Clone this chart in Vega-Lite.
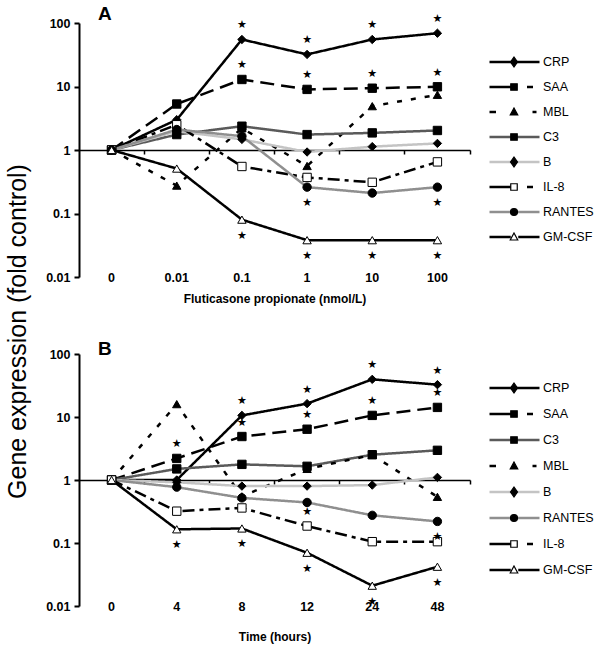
{
  "$schema": "https://vega.github.io/schema/vega-lite/v6.json",
  "background": "white",
  "padding": {"left": 5, "top": 5, "right": 5, "bottom": 5},
  "bounds": "flush",
  "spacing": 77,
  "config": {
    "font": "Liberation Sans",
    "view": {"stroke": null},
    "axis": {"grid": false, "labelColor": "black", "titleColor": "black", "labelFontWeight": "bold", "labelFontSize": 12.5, "titleFontSize": 12, "titleFontWeight": "bold"}
  },
  "datasets": {
    "a": [
      {"x": "0", "g": "CRP", "v": 1}, {"x": "0.01", "g": "CRP", "v": 3.0}, {"x": "0.1", "g": "CRP", "v": 55, "s": "a"}, {"x": "1", "g": "CRP", "v": 32, "s": "a"}, {"x": "10", "g": "CRP", "v": 55, "s": "a"}, {"x": "100", "g": "CRP", "v": 69, "s": "a"},
      {"x": "0", "g": "SAA", "v": 1}, {"x": "0.01", "g": "SAA", "v": 5.3}, {"x": "0.1", "g": "SAA", "v": 12.9, "s": "a"}, {"x": "1", "g": "SAA", "v": 9.0, "s": "a"}, {"x": "10", "g": "SAA", "v": 9.4, "s": "a"}, {"x": "100", "g": "SAA", "v": 9.9, "s": "a"},
      {"x": "0", "g": "MBL", "v": 1}, {"x": "0.01", "g": "MBL", "v": 0.275}, {"x": "0.1", "g": "MBL", "v": 2.2}, {"x": "1", "g": "MBL", "v": 0.56}, {"x": "10", "g": "MBL", "v": 4.9}, {"x": "100", "g": "MBL", "v": 7.4},
      {"x": "0", "g": "C3", "v": 1}, {"x": "0.01", "g": "C3", "v": 1.75}, {"x": "0.1", "g": "C3", "v": 2.37}, {"x": "1", "g": "C3", "v": 1.75}, {"x": "10", "g": "C3", "v": 1.86}, {"x": "100", "g": "C3", "v": 2.03},
      {"x": "0", "g": "B", "v": 1}, {"x": "0.01", "g": "B", "v": 1.98}, {"x": "0.1", "g": "B", "v": 1.47}, {"x": "1", "g": "B", "v": 0.93}, {"x": "10", "g": "B", "v": 1.13}, {"x": "100", "g": "B", "v": 1.27},
      {"x": "0", "g": "IL-8", "v": 1}, {"x": "0.01", "g": "IL-8", "v": 2.5}, {"x": "0.1", "g": "IL-8", "v": 0.55}, {"x": "1", "g": "IL-8", "v": 0.37}, {"x": "10", "g": "IL-8", "v": 0.31}, {"x": "100", "g": "IL-8", "v": 0.65},
      {"x": "0", "g": "RANTES", "v": 1}, {"x": "0.01", "g": "RANTES", "v": 2.1}, {"x": "0.1", "g": "RANTES", "v": 1.65}, {"x": "1", "g": "RANTES", "v": 0.26, "s": "b"}, {"x": "10", "g": "RANTES", "v": 0.21}, {"x": "100", "g": "RANTES", "v": 0.26, "s": "b"},
      {"x": "0", "g": "GM-CSF", "v": 1}, {"x": "0.01", "g": "GM-CSF", "v": 0.51}, {"x": "0.1", "g": "GM-CSF", "v": 0.08, "s": "b"}, {"x": "1", "g": "GM-CSF", "v": 0.038, "s": "b"}, {"x": "10", "g": "GM-CSF", "v": 0.038, "s": "b"}, {"x": "100", "g": "GM-CSF", "v": 0.038, "s": "b"}
    ],
    "b": [
      {"x": "0", "g": "CRP", "v": 1}, {"x": "4", "g": "CRP", "v": 1.0}, {"x": "8", "g": "CRP", "v": 10.6, "s": "a"}, {"x": "12", "g": "CRP", "v": 16.3, "s": "a"}, {"x": "24", "g": "CRP", "v": 39.6, "s": "a"}, {"x": "48", "g": "CRP", "v": 32.6, "s": "a"},
      {"x": "0", "g": "SAA", "v": 1}, {"x": "4", "g": "SAA", "v": 2.2, "s": "a"}, {"x": "8", "g": "SAA", "v": 4.9, "s": "a"}, {"x": "12", "g": "SAA", "v": 6.4, "s": "a"}, {"x": "24", "g": "SAA", "v": 10.6, "s": "a"}, {"x": "48", "g": "SAA", "v": 14.2, "s": "a"},
      {"x": "0", "g": "C3", "v": 1}, {"x": "4", "g": "C3", "v": 1.5}, {"x": "8", "g": "C3", "v": 1.77}, {"x": "12", "g": "C3", "v": 1.65}, {"x": "24", "g": "C3", "v": 2.52}, {"x": "48", "g": "C3", "v": 2.96},
      {"x": "0", "g": "MBL", "v": 1}, {"x": "4", "g": "MBL", "v": 16}, {"x": "8", "g": "MBL", "v": 0.55}, {"x": "12", "g": "MBL", "v": 1.5}, {"x": "24", "g": "MBL", "v": 2.5}, {"x": "48", "g": "MBL", "v": 0.54},
      {"x": "0", "g": "B", "v": 1}, {"x": "4", "g": "B", "v": 0.92}, {"x": "8", "g": "B", "v": 0.8}, {"x": "12", "g": "B", "v": 0.8}, {"x": "24", "g": "B", "v": 0.83}, {"x": "48", "g": "B", "v": 1.1},
      {"x": "0", "g": "RANTES", "v": 1}, {"x": "4", "g": "RANTES", "v": 0.77}, {"x": "8", "g": "RANTES", "v": 0.52}, {"x": "12", "g": "RANTES", "v": 0.44}, {"x": "24", "g": "RANTES", "v": 0.275}, {"x": "48", "g": "RANTES", "v": 0.22, "s": "b"},
      {"x": "0", "g": "IL-8", "v": 1}, {"x": "4", "g": "IL-8", "v": 0.32}, {"x": "8", "g": "IL-8", "v": 0.36}, {"x": "12", "g": "IL-8", "v": 0.186, "s": "a"}, {"x": "24", "g": "IL-8", "v": 0.105}, {"x": "48", "g": "IL-8", "v": 0.105},
      {"x": "0", "g": "GM-CSF", "v": 1}, {"x": "4", "g": "GM-CSF", "v": 0.165, "s": "b"}, {"x": "8", "g": "GM-CSF", "v": 0.17, "s": "b"}, {"x": "12", "g": "GM-CSF", "v": 0.07, "s": "b"}, {"x": "24", "g": "GM-CSF", "v": 0.021, "s": "b"}, {"x": "48", "g": "GM-CSF", "v": 0.042, "s": "b"}
    ]
  },
  "vconcat": [
    {
      "width": 391,
      "height": 254,
      "title": {"text": "A", "anchor": "start", "frame": "group", "dx": 19, "offset": -26, "fontSize": 19, "fontWeight": "bold", "baseline": "alphabetic", "color": "black"},
      "data": {"name": "a"},
      "resolve": {"scale": {"shape": "independent", "fill": "independent", "stroke": "independent", "strokeDash": "independent"}, "axis": {"x": "independent"}},
      "layer": [
        {
          "mark": {"type": "line", "strokeWidth": 2.5},
          "encoding": {
            "x": {"field": "x", "type": "ordinal", "scale": {"type": "band", "domain": ["0", "0.01", "0.1", "1", "10", "100"], "paddingInner": 0, "paddingOuter": 0},
                  "axis": {"orient": "bottom", "domain": false, "ticks": false, "tickSize": 0, "labelPadding": 0, "labelBaseline": "middle", "labelAngle": 0, "title": "Fluticasone propionate (nmol/L)", "titlePadding": 10}},
            "y": {"field": "v", "type": "quantitative", "scale": {"type": "log", "domain": [0.01, 100], "nice": false},
                  "axis": {"values": [0.01, 0.1, 1, 10, 100], "format": ".2~f", "domainColor": "black", "domainWidth": 2, "tickColor": "black", "tickWidth": 2, "tickSize": 5, "labelPadding": 4,
                           "title": "Gene expression (fold control)", "titleFontSize": 25, "titleFontWeight": "normal", "titleX": -49, "titleY": 308, "titleAlign": "center", "titleBaseline": "bottom", "titleAngle": -90}},
            "stroke": {"field": "g", "type": "nominal", "scale": {"domain": ["CRP", "SAA", "MBL", "C3", "B", "IL-8", "RANTES", "GM-CSF"], "range": ["#000000", "#000000", "#000000", "#5a5a5a", "#c4c4c4", "#000000", "#8f8f8f", "#000000"]}, "legend": null},
            "strokeDash": {"field": "g", "type": "nominal", "scale": {"domain": ["CRP", "SAA", "MBL", "C3", "B", "IL-8", "RANTES", "GM-CSF"], "range": [[1, 0], [14, 7], [5, 9], [1, 0], [1, 0], [12, 5, 4, 5], [1, 0], [1, 0]]}, "legend": null}
          }
        },
        {
          "mark": {"type": "point", "filled": true, "opacity": 1, "size": 70, "stroke": "black", "strokeWidth": 1},
          "encoding": {
            "x": {"field": "x", "type": "ordinal", "scale": {"type": "band", "domain": ["0", "0.01", "0.1", "1", "10", "100"], "paddingInner": 0, "paddingOuter": 0},
                  "axis": {"orient": "top", "offset": -127, "labels": false, "domain": true, "domainColor": "black", "domainWidth": 1.5, "ticks": true, "tickSize": -4, "tickColor": "black", "tickWidth": 1.5, "bandPosition": 1, "title": null}},
            "y": {"field": "v", "type": "quantitative"},
            "shape": {"field": "g", "type": "nominal", "scale": {"domain": ["CRP", "SAA", "MBL", "C3", "B", "IL-8", "RANTES", "GM-CSF"], "range": ["diamond", "square", "triangle-up", "square", "diamond", "square", "circle", "triangle-up"]}, "legend": null},
            "fill": {"field": "g", "type": "nominal", "scale": {"domain": ["CRP", "SAA", "MBL", "C3", "B", "IL-8", "RANTES", "GM-CSF"], "range": ["#000000", "#000000", "#000000", "#000000", "#000000", "#ffffff", "#000000", "#ffffff"]}, "legend": null}
          }
        },
        {
          "transform": [{"filter": "datum.s === 'a'"}],
          "mark": {"type": "text", "text": "★", "dy": -14, "fontSize": 11, "font": "DejaVu Sans", "baseline": "middle", "color": "black"},
          "encoding": {
            "x": {"field": "x", "type": "ordinal", "axis": null},
            "y": {"field": "v", "type": "quantitative"}
          }
        },
        {
          "transform": [{"filter": "datum.s === 'b'"}],
          "mark": {"type": "text", "text": "★", "dy": 16, "fontSize": 11, "font": "DejaVu Sans", "baseline": "middle", "color": "black"},
          "encoding": {
            "x": {"field": "x", "type": "ordinal", "axis": null},
            "y": {"field": "v", "type": "quantitative"}
          }
        },
        {
          "transform": [{"filter": "false"}],
          "mark": {"type": "point", "filled": false, "opacity": 1},
          "encoding": {
            "shape": {"field": "g", "type": "nominal",
                      "scale": {"domain": ["CRP", "SAA", "MBL", "C3", "B", "IL-8", "RANTES", "GM-CSF"],
                                "range": ["M-1,0H1", "M-1,0H-0.12M0.5,0H0.74", "M-1,0H-0.74M0.72,0H0.88", "M-1,0H1", "M-1,0H1", "M-1,0H-0.12M0.5,0H0.74", "M-1,0H1", "M-1,0H-0.15M0.15,0H1"]},
                      "legend": {"orient": "none", "legendX": 409, "legendY": 29, "title": null, "symbolSize": 2500, "symbolStrokeWidth": 2.5, "symbolFillColor": "transparent", "clipHeight": 20, "rowPadding": 5, "labelOffset": 2, "labelFontSize": 12.5, "labelColor": "black", "padding": 0}},
            "stroke": {"field": "g", "type": "nominal", "scale": {"domain": ["CRP", "SAA", "MBL", "C3", "B", "IL-8", "RANTES", "GM-CSF"], "range": ["#000000", "#000000", "#000000", "#5a5a5a", "#c4c4c4", "#000000", "#8f8f8f", "#000000"]},
                       "legend": {"orient": "none", "legendX": 409, "legendY": 29, "title": null, "symbolSize": 2500, "symbolStrokeWidth": 2.5, "symbolFillColor": "transparent", "clipHeight": 20, "rowPadding": 5, "labelOffset": 2, "labelFontSize": 12.5, "labelColor": "black", "padding": 0}}
          }
        },
        {
          "transform": [{"filter": "false"}],
          "mark": {"type": "point", "filled": true, "opacity": 1, "strokeWidth": 1.2},
          "encoding": {
            "shape": {"field": "g", "type": "nominal",
                      "scale": {"domain": ["CRP", "SAA", "MBL", "C3", "B", "IL-8", "RANTES", "GM-CSF"],
                                "range": ["M0,-0.2L0.14,0L0,0.2L-0.14,0Z", "M-0.13,-0.13H0.13V0.13H-0.13Z", "M0,-0.16L0.15,0.12H-0.15Z", "M-0.13,-0.13H0.13V0.13H-0.13Z", "M0,-0.2L0.14,0L0,0.2L-0.14,0Z", "M-0.13,-0.13H0.13V0.13H-0.13Z", "M0.14,0A0.14,0.14,0,1,1,-0.14,0A0.14,0.14,0,1,1,0.14,0Z", "M0,-0.16L0.15,0.12H-0.15Z"]},
                      "legend": {"orient": "none", "legendX": 409, "legendY": 29, "title": null, "symbolSize": 2500, "symbolStrokeWidth": 1.2, "clipHeight": 20, "rowPadding": 5, "labelOffset": 2, "labelFontSize": 12.5, "labelColor": "transparent", "padding": 0}},
            "fill": {"field": "g", "type": "nominal", "scale": {"domain": ["CRP", "SAA", "MBL", "C3", "B", "IL-8", "RANTES", "GM-CSF"], "range": ["#000000", "#000000", "#000000", "#000000", "#000000", "#ffffff", "#000000", "#ffffff"]},
                     "legend": {"orient": "none", "legendX": 409, "legendY": 29, "title": null, "symbolSize": 2500, "symbolStrokeWidth": 1.2, "clipHeight": 20, "rowPadding": 5, "labelOffset": 2, "labelFontSize": 12.5, "labelColor": "transparent", "padding": 0}},
            "stroke": {"field": "g", "type": "nominal", "scale": {"domain": ["CRP", "SAA", "MBL", "C3", "B", "IL-8", "RANTES", "GM-CSF"], "range": ["#000000", "#000000", "#000000", "#000000", "#000000", "#000000", "#000000", "#000000"]},
                       "legend": {"orient": "none", "legendX": 409, "legendY": 29, "title": null, "symbolSize": 2500, "symbolStrokeWidth": 1.2, "clipHeight": 20, "rowPadding": 5, "labelOffset": 2, "labelFontSize": 12.5, "labelColor": "transparent", "padding": 0}}
          }
        }
      ]
    },
    {
      "width": 391,
      "height": 252,
      "title": {"text": "B", "anchor": "start", "frame": "group", "dx": 19, "offset": -26, "fontSize": 19, "fontWeight": "bold", "baseline": "alphabetic", "color": "black"},
      "data": {"name": "b"},
      "resolve": {"scale": {"shape": "independent", "fill": "independent", "stroke": "independent", "strokeDash": "independent"}, "axis": {"x": "independent"}},
      "layer": [
        {
          "mark": {"type": "line", "strokeWidth": 2.5},
          "encoding": {
            "x": {"field": "x", "type": "ordinal", "scale": {"type": "band", "domain": ["0", "4", "8", "12", "24", "48"], "paddingInner": 0, "paddingOuter": 0},
                  "axis": {"orient": "bottom", "domain": false, "ticks": false, "tickSize": 0, "labelPadding": 0, "labelBaseline": "middle", "labelAngle": 0, "title": "Time (hours)", "titlePadding": 19}},
            "y": {"field": "v", "type": "quantitative", "scale": {"type": "log", "domain": [0.01, 100], "nice": false},
                  "axis": {"values": [0.01, 0.1, 1, 10, 100], "format": ".2~f", "domainColor": "black", "domainWidth": 2, "tickColor": "black", "tickWidth": 2, "tickSize": 5, "labelPadding": 4, "title": null}},
            "stroke": {"field": "g", "type": "nominal", "scale": {"domain": ["CRP", "SAA", "C3", "MBL", "B", "RANTES", "IL-8", "GM-CSF"], "range": ["#000000", "#000000", "#5a5a5a", "#000000", "#c4c4c4", "#8f8f8f", "#000000", "#000000"]}, "legend": null},
            "strokeDash": {"field": "g", "type": "nominal", "scale": {"domain": ["CRP", "SAA", "C3", "MBL", "B", "RANTES", "IL-8", "GM-CSF"], "range": [[1, 0], [14, 7], [1, 0], [5, 9], [1, 0], [1, 0], [12, 5, 4, 5], [1, 0]]}, "legend": null}
          }
        },
        {
          "mark": {"type": "point", "filled": true, "opacity": 1, "size": 70, "stroke": "black", "strokeWidth": 1},
          "encoding": {
            "x": {"field": "x", "type": "ordinal", "scale": {"type": "band", "domain": ["0", "4", "8", "12", "24", "48"], "paddingInner": 0, "paddingOuter": 0},
                  "axis": {"orient": "top", "offset": -126, "labels": false, "domain": true, "domainColor": "black", "domainWidth": 1.5, "ticks": true, "tickSize": -4, "tickColor": "black", "tickWidth": 1.5, "bandPosition": 1, "title": null}},
            "y": {"field": "v", "type": "quantitative"},
            "shape": {"field": "g", "type": "nominal", "scale": {"domain": ["CRP", "SAA", "C3", "MBL", "B", "RANTES", "IL-8", "GM-CSF"], "range": ["diamond", "square", "square", "triangle-up", "diamond", "circle", "square", "triangle-up"]}, "legend": null},
            "fill": {"field": "g", "type": "nominal", "scale": {"domain": ["CRP", "SAA", "C3", "MBL", "B", "RANTES", "IL-8", "GM-CSF"], "range": ["#000000", "#000000", "#000000", "#000000", "#000000", "#000000", "#ffffff", "#ffffff"]}, "legend": null}
          }
        },
        {
          "transform": [{"filter": "datum.s === 'a'"}],
          "mark": {"type": "text", "text": "★", "dy": -14, "fontSize": 11, "font": "DejaVu Sans", "baseline": "middle", "color": "black"},
          "encoding": {
            "x": {"field": "x", "type": "ordinal", "axis": null},
            "y": {"field": "v", "type": "quantitative"}
          }
        },
        {
          "transform": [{"filter": "datum.s === 'b'"}],
          "mark": {"type": "text", "text": "★", "dy": 16, "fontSize": 11, "font": "DejaVu Sans", "baseline": "middle", "color": "black"},
          "encoding": {
            "x": {"field": "x", "type": "ordinal", "axis": null},
            "y": {"field": "v", "type": "quantitative"}
          }
        },
        {
          "transform": [{"filter": "false"}],
          "mark": {"type": "point", "filled": false, "opacity": 1},
          "encoding": {
            "shape": {"field": "g", "type": "nominal",
                      "scale": {"domain": ["CRP", "SAA", "C3", "MBL", "B", "RANTES", "IL-8", "GM-CSF"],
                                "range": ["M-1,0H1", "M-1,0H-0.12M0.5,0H0.74", "M-1,0H1", "M-1,0H-0.74M0.72,0H0.88", "M-1,0H1", "M-1,0H1", "M-1,0H-0.12M0.5,0H0.74", "M-1,0H-0.15M0.15,0H1"]},
                      "legend": {"orient": "none", "legendX": 409, "legendY": 24, "title": null, "symbolSize": 2500, "symbolStrokeWidth": 2.5, "symbolFillColor": "transparent", "clipHeight": 20, "rowPadding": 6, "labelOffset": 2, "labelFontSize": 12.5, "labelColor": "black", "padding": 0}},
            "stroke": {"field": "g", "type": "nominal", "scale": {"domain": ["CRP", "SAA", "C3", "MBL", "B", "RANTES", "IL-8", "GM-CSF"], "range": ["#000000", "#000000", "#5a5a5a", "#000000", "#c4c4c4", "#8f8f8f", "#000000", "#000000"]},
                       "legend": {"orient": "none", "legendX": 409, "legendY": 24, "title": null, "symbolSize": 2500, "symbolStrokeWidth": 2.5, "symbolFillColor": "transparent", "clipHeight": 20, "rowPadding": 6, "labelOffset": 2, "labelFontSize": 12.5, "labelColor": "black", "padding": 0}}
          }
        },
        {
          "transform": [{"filter": "false"}],
          "mark": {"type": "point", "filled": true, "opacity": 1, "strokeWidth": 1.2},
          "encoding": {
            "shape": {"field": "g", "type": "nominal",
                      "scale": {"domain": ["CRP", "SAA", "C3", "MBL", "B", "RANTES", "IL-8", "GM-CSF"],
                                "range": ["M0,-0.2L0.14,0L0,0.2L-0.14,0Z", "M-0.13,-0.13H0.13V0.13H-0.13Z", "M-0.13,-0.13H0.13V0.13H-0.13Z", "M0,-0.16L0.15,0.12H-0.15Z", "M0,-0.2L0.14,0L0,0.2L-0.14,0Z", "M0.14,0A0.14,0.14,0,1,1,-0.14,0A0.14,0.14,0,1,1,0.14,0Z", "M-0.13,-0.13H0.13V0.13H-0.13Z", "M0,-0.16L0.15,0.12H-0.15Z"]},
                      "legend": {"orient": "none", "legendX": 409, "legendY": 24, "title": null, "symbolSize": 2500, "symbolStrokeWidth": 1.2, "clipHeight": 20, "rowPadding": 6, "labelOffset": 2, "labelFontSize": 12.5, "labelColor": "transparent", "padding": 0}},
            "fill": {"field": "g", "type": "nominal", "scale": {"domain": ["CRP", "SAA", "C3", "MBL", "B", "RANTES", "IL-8", "GM-CSF"], "range": ["#000000", "#000000", "#000000", "#000000", "#000000", "#000000", "#ffffff", "#ffffff"]},
                     "legend": {"orient": "none", "legendX": 409, "legendY": 24, "title": null, "symbolSize": 2500, "symbolStrokeWidth": 1.2, "clipHeight": 20, "rowPadding": 6, "labelOffset": 2, "labelFontSize": 12.5, "labelColor": "transparent", "padding": 0}},
            "stroke": {"field": "g", "type": "nominal", "scale": {"domain": ["CRP", "SAA", "C3", "MBL", "B", "RANTES", "IL-8", "GM-CSF"], "range": ["#000000", "#000000", "#000000", "#000000", "#000000", "#000000", "#000000", "#000000"]},
                       "legend": {"orient": "none", "legendX": 409, "legendY": 24, "title": null, "symbolSize": 2500, "symbolStrokeWidth": 1.2, "clipHeight": 20, "rowPadding": 6, "labelOffset": 2, "labelFontSize": 12.5, "labelColor": "transparent", "padding": 0}}
          }
        }
      ]
    }
  ]
}
